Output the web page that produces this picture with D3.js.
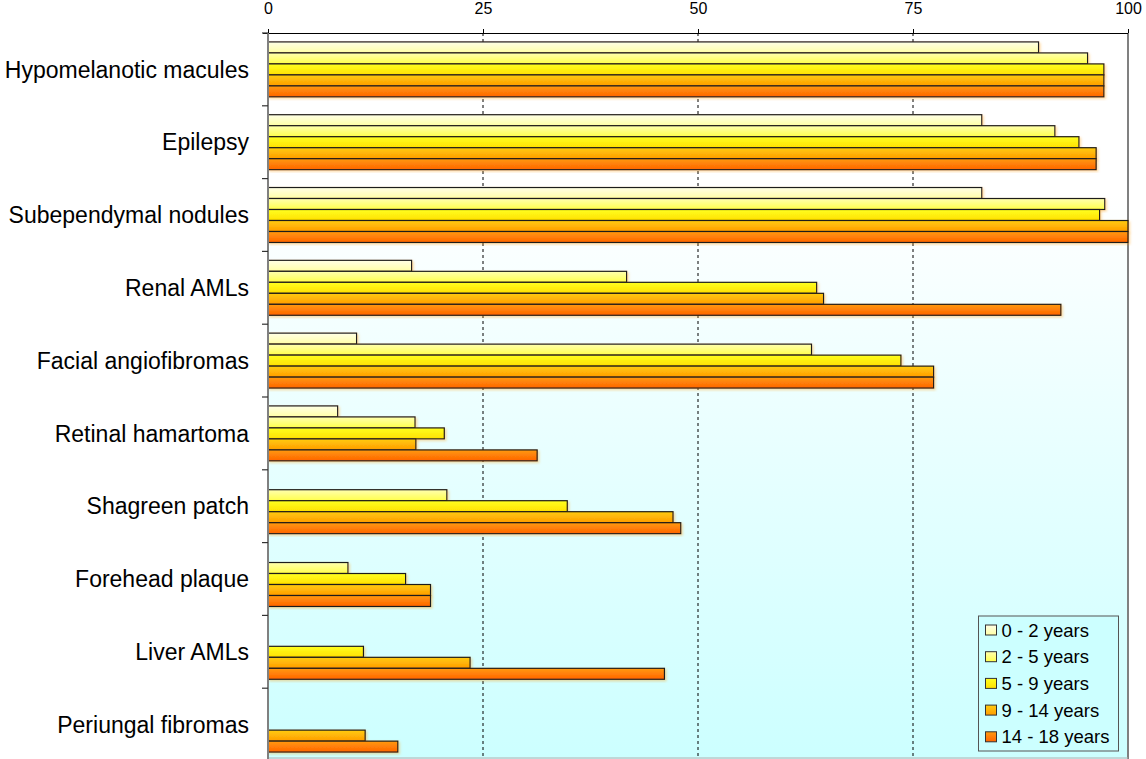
<!DOCTYPE html>
<html>
<head>
<meta charset="utf-8">
<script src="https://cdn.jsdelivr.net/npm/d3@7"></script>
<style>
  html, body { margin: 0; padding: 0; background: #fff; overflow: hidden; }
  text { font-family: "Liberation Sans", Arial, sans-serif; fill: #000; }
</style>
</head>
<body>
<script>
// Prevalence of TSC features by age group
const width = 1146, height = 759;

const categories = [
    "Hypomelanotic macules", "Epilepsy", "Subependymal nodules", "Renal AMLs",
    "Facial angiofibromas", "Retinal hamartoma", "Shagreen patch",
    "Forehead plaque", "Liver AMLs", "Periungal fibromas"
];
const series = ["0 - 2 years", "2 - 5 years", "5 - 9 years", "9 - 14 years", "14 - 18 years"];

// one array per age group, same order as categories
const age0to2   = [89.6, 83.0, 83.0, 16.7, 10.3, 8.1, 0, 0, 0, 0];
const age2to5   = [95.3, 91.5, 97.3, 41.7, 63.2, 17.1, 20.8, 9.3, 0, 0];
const age5to9   = [97.2, 94.3, 96.7, 63.8, 73.6, 20.5, 34.8, 16.0, 11.1, 0];
const age9to14  = [97.2, 96.3, 100, 64.6, 77.4, 17.2, 47.1, 18.9, 23.5, 11.3];
const age14to18 = [97.2, 96.3, 100, 92.2, 77.4, 31.3, 48.0, 18.9, 46.1, 15.1];
const xTicks = [0, 25, 50, 75, 100];

const values = [age0to2, age2to5, age5to9, age9to14, age14to18];
// top / bottom colour of each bar gradient
const colors = [
    ["#ffffe6", "#ffffa6"],
    ["#ffffb0", "#ffff4a"],
    ["#ffff20", "#ffe000"],
    ["#ffcc10", "#ff9c00"],
    ["#ff9a10", "#ff6400"]
];

// plot runs slightly past the bottom edge of the window, as in the original
const margin = { top: 33, right: 18, bottom: -2, left: 268 };

const svg = d3.select("body").append("svg")
    .attr("width", width)
    .attr("height", height)
    .style("display", "block");

const defs = svg.append("defs");

const bg = defs.append("linearGradient")
    .attr("id", "bg").attr("x1", 0).attr("y1", 0).attr("x2", 0).attr("y2", 1);
bg.append("stop").attr("offset", 0).attr("stop-color", "#ffffff");
bg.append("stop").attr("offset", 0.22).attr("stop-color", "#ffffff");
bg.append("stop").attr("offset", 1).attr("stop-color", "#ccffff");

colors.forEach((c, i) => {
    const g = defs.append("linearGradient")
        .attr("id", "bar" + i).attr("x1", 0).attr("y1", 0).attr("x2", 0).attr("y2", 1);
    g.append("stop").attr("offset", 0).attr("stop-color", c[0]);
    g.append("stop").attr("offset", 1).attr("stop-color", c[1]);
});

defs.append("filter").attr("id", "shadow")
    .attr("x", "-5%").attr("y", "-20%").attr("width", "110%").attr("height", "150%")
    .append("feDropShadow")
    .attr("dx", 1.5).attr("dy", 1.5).attr("stdDeviation", 0.8)
    .attr("flood-color", "#ff9900").attr("flood-opacity", 0.35);

const x = d3.scaleLinear()
    .domain([0, 100])
    .range([margin.left, width - margin.right]);

const y0 = d3.scaleBand()
    .domain(categories)
    .range([margin.top, height - margin.bottom])
    .padding(0);

const y1 = d3.scaleBand()
    .domain(d3.range(series.length))
    .range([0, y0.bandwidth()])
    .paddingInner(0)
    .paddingOuter(0.81);

const plotBottom = height - margin.bottom;

// plot background
svg.append("rect")
    .attr("x", x(0)).attr("y", margin.top)
    .attr("width", x(100) - x(0))
    .attr("height", plotBottom - margin.top)
    .attr("fill", "url(#bg)");

// dashed gridlines
svg.append("g")
    .selectAll("line")
    .data(xTicks.filter(d => d > 0 && d < 100))
    .enter().append("line")
    .attr("x1", d => x(d)).attr("x2", d => x(d))
    .attr("y1", margin.top).attr("y2", plotBottom)
    .attr("stroke", "#000")
    .attr("stroke-width", 1)
    .attr("stroke-dasharray", "3,3");

// right border of plot area
svg.append("line")
    .attr("x1", x(100)).attr("x2", x(100))
    .attr("y1", margin.top).attr("y2", plotBottom)
    .attr("stroke", "#808080").attr("stroke-width", 2);
svg.append("line")
    .attr("x1", x(0)).attr("x2", x(100))
    .attr("y1", 758).attr("y2", 758)
    .attr("stroke", "#b0b0b0").attr("stroke-width", 1);

// bars
const groups = svg.append("g")
    .selectAll("g")
    .data(categories)
    .enter().append("g")
    .attr("transform", d => `translate(0,${y0(d)})`);

groups.selectAll("rect")
    .data((d, ci) => values.map((v, si) => ({ si, v: v[ci] })).filter(d => d.v > 0))
    .enter().append("rect")
    .attr("x", x(0))
    .attr("y", d => y1(d.si))
    .attr("width", d => x(d.v) - x(0))
    .attr("height", y1.bandwidth())
    .attr("fill", d => `url(#bar${d.si})`)
    .attr("stroke", "#1a1a1a")
    .attr("stroke-width", 1.2)
    .attr("filter", "url(#shadow)");

// top axis
const xAxis = svg.append("g")
    .attr("transform", `translate(0,${margin.top})`)
    .call(d3.axisTop(x).tickValues(xTicks).tickSize(4).tickPadding(15).tickFormat(d3.format("d")));
xAxis.select(".domain").attr("stroke", "#000").attr("d", `M${x(0) - 5},0.5H${x(100)}`);
xAxis.selectAll(".tick line").attr("stroke", "#000");
xAxis.selectAll(".tick text")
    .attr("font-size", "16px")
    .attr("font-family", "Liberation Sans, Arial, sans-serif")
    .attr("fill", "#000");

// left axis: gray line with ticks at band boundaries
svg.append("line")
    .attr("x1", x(0)).attr("x2", x(0))
    .attr("y1", margin.top).attr("y2", plotBottom)
    .attr("stroke", "#808080").attr("stroke-width", 2);

svg.append("g")
    .selectAll("line")
    .data(categories.map(c => y0(c)).concat([y0.range()[1]]))
    .enter().append("line")
    .attr("x1", x(0) - 6).attr("x2", x(0))
    .attr("y1", d => d).attr("y2", d => d)
    .attr("stroke", "#333").attr("stroke-width", 1.2);

svg.append("g")
    .selectAll("text")
    .data(categories)
    .enter().append("text")
    .attr("x", 249)
    .attr("y", d => y0(d) + y0.bandwidth() / 2)
    .attr("dy", "0.36em")
    .attr("text-anchor", "end")
    .attr("font-size", "23px")
    .text(d => d);

// legend
const legend = svg.append("g").attr("transform", "translate(978.5,616)");
legend.append("rect")
    .attr("width", 140).attr("height", 135)
    .attr("fill", "#ccffff")
    .attr("stroke", "#555").attr("stroke-width", 1);

const item = legend.selectAll("g.item")
    .data(series)
    .enter().append("g")
    .attr("class", "item")
    .attr("transform", (d, i) => `translate(7,${14 + i * 26.7})`);

item.append("rect")
    .attr("x", 0).attr("y", -5)
    .attr("width", 11).attr("height", 10)
    .attr("fill", (d, i) => `url(#bar${i})`)
    .attr("stroke", "#333").attr("stroke-width", 1);

item.append("text")
    .attr("x", 16)
    .attr("dy", "0.36em")
    .attr("font-size", "18.5px")
    .text(d => d);
</script>
</body>
</html>
